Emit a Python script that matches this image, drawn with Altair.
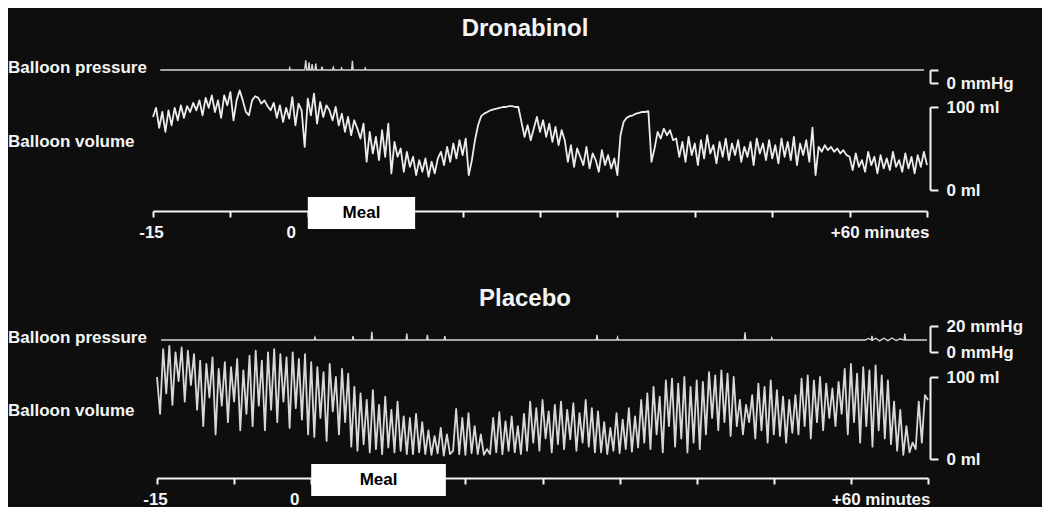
import altair as alt
import numpy as np
import pandas as pd

# ---------------- data ----------------
PANEL_TITLES = ["Dronabinol", "Placebo"]
TRACE_LABELS = ["Balloon pressure", "Balloon volume"]
TIME_DOMAIN = [-15, 60]
TIME_TICKS = [-15, -7.5, 0, 7.5, 15, 22.5, 30, 37.5, 45, 52.5, 60]
VOLUME_TICKS = [0, 100]
MEAL_LABEL = "Meal"
MEAL_START = [0.0, 0.0]
MEAL_END = [10.4, 13.1]

# balloon volume (ml), sampled evenly from -15 to +60 min
DRON_VOLUME = [
    88, 99, 75, 94, 70, 96, 78, 99, 84, 102, 87, 101,
    94, 105, 96, 108, 90, 111, 99, 114, 94, 108, 87, 114, 102, 118, 84, 108,
    120, 108, 94, 90, 108, 113, 111, 104, 108, 101, 96, 105, 87, 102, 82, 99,
    86, 112, 78, 104, 96, 52, 110, 90, 116, 80, 106, 88, 102,
    96, 84, 100, 78, 92, 70, 88, 66, 84, 74, 62, 80, 34,
    70, 44, 64, 36, 72, 40, 80, 20,
    58, 40, 50, 22, 46, 28, 40, 18, 36, 22, 38, 16, 34, 20, 38,
    46, 30, 52, 34, 56, 38, 60, 42, 62, 18,
    36, 60, 78, 89,
    92, 94, 96, 97, 98, 99, 100, 100, 101, 101, 100, 100,
    82, 64, 78, 60, 74,
    88, 70, 84, 64, 80, 58, 76, 54, 72,
    60, 34, 54, 28, 50, 40, 30, 52, 26, 44, 36, 22, 48, 30, 42, 26, 38, 18,
    66, 82, 87, 89, 90, 92, 93, 94, 94, 95,
    34,
    50, 70, 62, 74, 66, 72, 60,
    62, 40, 58, 34, 64, 42, 56, 30, 60, 38, 66, 44, 54, 32, 58, 40, 62, 36, 56, 42, 60, 34,
    52, 40, 58, 30, 62, 44, 56, 36, 60, 38, 54, 32, 62, 40, 58, 36, 64, 30, 56, 42, 60, 34,
    75, 18,
    52, 46, 54, 48, 52, 46, 50, 44, 48, 42,
    40, 24, 44, 28, 36, 22, 46, 30, 40, 20, 42, 26, 38, 24, 46, 28, 36, 22, 44, 26, 40, 20, 42, 28, 46, 30,
]

PLAC_VOLUME = [
    100, 55, 134, 80, 138, 66, 130, 95, 136, 70, 132, 90, 128,
    60, 120, 40, 116, 75, 124, 30, 110, 65, 118, 45, 112, 70, 122, 35, 108, 55,
    126, 40, 132, 65, 120, 35, 130, 60, 134, 45, 128, 70, 124, 38, 130, 62, 122, 48, 128, 30, 118,
    27, 112, 50, 106, 22, 116, 58, 100, 30, 110, 45, 104,
    15, 88, 10, 80, 18, 72, 8, 84, 12, 66, 6, 76, 14, 60, 8, 70, 10, 52, 6,
    50, 6, 55, 8, 45,
    6, 35, 5, 28, 7, 38, 4, 30, 6, 10,
    61, 6, 50, 5, 56, 7, 40, 6, 30, 5, 12,
    6, 50, 8, 57, 6, 46, 10, 52, 8, 40, 6, 55, 10,
    70, 20, 62, 10, 72, 25, 58, 8, 66, 18, 70, 12, 60, 24, 68, 10, 56, 20, 72, 15, 62, 8, 58,
    8, 45, 6, 38, 10, 56, 7, 48, 12, 62, 9, 52, 14,
    72, 20, 80, 12, 88, 30, 76, 8, 96, 40,
    98, 15, 92, 25, 100, 8, 88, 20, 96, 12, 94,
    30, 106, 50, 102, 35, 108, 45, 104, 28, 100,
    40, 72, 30, 66, 45, 78,
    25, 92, 35, 88, 20, 96, 30, 84,
    28, 76, 20, 72, 32, 78,
    30, 98, 40, 102, 25, 96, 45, 100, 35,
    92, 50, 86, 40, 94, 55,
    110, 30, 116, 45, 104, 20, 112, 40, 108, 15, 114, 35, 102, 25, 96, 18,
    70, 10, 60, 5, 40, 8, 20,
    12, 70, 20, 78, 72,
]

# balloon pressure (mmHg) points: time (min), value
DRON_P_T = [-14.3, -1.8, -1.75, -1.7, -0.3, -0.2, -0.1, 0.05, 0.12, 0.2, 0.35, 0.42, 0.5,
            0.7, 0.77, 0.85, 1.3, 1.37, 1.45, 2.4, 2.47, 2.55, 3.2, 3.27, 3.35,
            4.25, 4.32, 4.4, 5.5, 5.57, 5.65, 59.7]
DRON_P_V = [10, 10, 11.5, 10, 10, 17.5, 10, 10, 16, 10, 10, 14.5, 10,
            10, 15, 10, 10, 12.5, 10, 10, 12, 10, 10, 11.5, 10,
            10, 17, 10, 10, 11.5, 10, 10]

PLAC_P_T = [-14.6, 0.3, 0.37, 0.45, 4.0, 4.07, 4.15, 5.83, 5.9, 5.97, 9.23, 9.3, 9.37,
            11.23, 11.3, 11.37, 12.93, 13.0, 13.07, 27.73, 27.8, 27.87, 29.73, 29.8, 29.87,
            42.13, 42.2, 42.27, 44.73, 44.8, 44.87, 53.9, 54.2, 54.5, 54.55, 54.62,
            54.9, 55.3, 55.7, 56.1, 56.5, 56.9, 57.3, 57.68, 57.75, 57.82, 59.9]
PLAC_P_V = [9.2, 9.2, 11.2, 9.2, 9.2, 12.2, 9.2, 9.2, 15.5, 9.2, 9.2, 14.2, 9.2,
            9.2, 13.2, 9.2, 9.2, 12.2, 9.2, 9.2, 13.2, 9.2, 9.2, 11.2, 9.2,
            9.2, 15.2, 9.2, 9.2, 10.8, 9.2, 9.2, 10.4, 9.2, 12.4, 9.2,
            10.6, 8.6, 10.6, 8.8, 10.8, 8.8, 10.2, 9.2, 14.2, 9.2, 9.2]

# ---------------- style ----------------
FONT = "Liberation Sans"
BG = "#0e0e0e"
FG = "#f4f4f4"
PANEL_W = 1034
FS = 17
TITLE_FS = 24


def panel(title, volume, p_t, p_v, meal_start, meal_end, x_range, height,
          vol_range, p_domain, p_range, p_ticks, p_label_expr, title_offset,
          trace_color):
    xs = alt.Scale(domain=TIME_DOMAIN, range=x_range, nice=False, zero=False)
    xaxis = alt.Axis(
        values=TIME_TICKS, title=None, grid=False,
        labelExpr="datum.value == -15 ? '-15' : datum.value == 0 ? '0' : "
                  "datum.value == 60 ? '+60 minutes' : ''",
        labelAlign={"condition": {"test": "datum.value == 60", "value": "right"},
                    "value": "center"},
        labelOffset={"condition": [{"test": "datum.value == 0", "value": -17},
                                   {"test": "datum.value == 60", "value": 2}],
                     "value": -2},
        labelFlush=False, labelOverlap=False,
        domainColor=FG, domainWidth=2, tickColor=FG, tickWidth=2, tickSize=6,
        labelColor=FG, labelFont=FONT, labelFontSize=FS, labelFontWeight="bold",
        labelPadding=7,
    )
    common_y_axis = dict(
        orient="right", offset=-112, title=None, grid=False,
        domainColor=FG, domainWidth=2, tickColor=FG, tickWidth=2, tickSize=8,
        labelColor=FG, labelFont=FONT, labelFontSize=FS, labelFontWeight="bold",
        labelPadding=8, labelOverlap=False, labelAlign="left", labelBaseline="middle",
    )
    vol_scale = alt.Scale(domain=[0, 100], range=vol_range, nice=False, zero=False)
    vol_axis = alt.Axis(values=VOLUME_TICKS,
                        labelExpr="datum.value == 100 ? '100 ml' : '0 ml'",
                        **common_y_axis)
    p_scale = alt.Scale(domain=p_domain, range=p_range, nice=False, zero=False)
    p_axis = alt.Axis(values=p_ticks, labelExpr=p_label_expr, **common_y_axis)

    vol_df = pd.DataFrame({"t": np.linspace(TIME_DOMAIN[0], TIME_DOMAIN[1], len(volume)),
                           "v": volume})
    l_vol = alt.Chart(vol_df).mark_line(
        color=trace_color, strokeWidth=1.8, strokeJoin="round"
    ).encode(
        x=alt.X("t:Q", scale=xs, axis=xaxis),
        y=alt.Y("v:Q", scale=vol_scale, axis=vol_axis),
    )

    p_df = pd.DataFrame({"t": p_t, "p": p_v})
    l_p = alt.Chart(p_df).mark_line(color="#d6d6d6", strokeWidth=1.4).encode(
        x=alt.X("t:Q", scale=xs, axis=xaxis),
        y=alt.Y("p:Q", scale=p_scale, axis=p_axis),
    )

    text_style = dict(align="left", baseline="middle", font=FONT, fontSize=FS,
                      fontWeight="bold", color=FG)
    lab_p = alt.Chart(pd.DataFrame({"label": [TRACE_LABELS[0]], "p": [p_v[0]]})).mark_text(
        dy=-2, **text_style
    ).encode(
        x=alt.value(0),
        y=alt.Y("p:Q", scale=p_scale, axis=None),
        text="label:N",
    )
    lab_v = alt.Chart(pd.DataFrame({"label": [TRACE_LABELS[1]], "v": [58]})).mark_text(
        **text_style
    ).encode(
        x=alt.value(0),
        y=alt.Y("v:Q", scale=vol_scale, axis=None),
        text="label:N",
    )

    meal_df = pd.DataFrame({"start": [meal_start], "end": [meal_end],
                            "mid": [(meal_start + meal_end) / 2], "label": [MEAL_LABEL]})
    meal_box = alt.Chart(meal_df).mark_rect(color="#ffffff").encode(
        x=alt.X("start:Q", scale=xs, axis=xaxis),
        x2="end:Q",
        y=alt.value(height - 14),
        y2=alt.value(height + 18),
    )
    meal_txt = alt.Chart(meal_df).mark_text(
        font=FONT, fontSize=FS, fontWeight="bold", color="#000000", baseline="middle"
    ).encode(
        x=alt.X("mid:Q", scale=xs, axis=xaxis),
        y=alt.value(height + 2),
        text="label:N",
    )

    return alt.layer(l_vol, l_p, lab_p, lab_v, meal_box, meal_txt).resolve_scale(
        y="independent"
    ).properties(
        width=PANEL_W, height=height,
        title=alt.TitleParams(title, fontSize=TITLE_FS, font=FONT, fontWeight="bold",
                              color=FG, anchor="middle", offset=title_offset),
    )


top = panel(PANEL_TITLES[0], DRON_VOLUME, DRON_P_T, DRON_P_V, MEAL_START[0], MEAL_END[0],
            x_range=[145, 919], height=165, vol_range=[144, 61],
            p_domain=[0, 10], p_range=[37, 24], p_ticks=[0, 10],
            p_label_expr="datum.value == 0 ? '0 mmHg' : ''", title_offset=5,
            trace_color="#ececec")
bottom = panel(PANEL_TITLES[1], PLAC_VOLUME, PLAC_P_T, PLAC_P_V, MEAL_START[1], MEAL_END[1],
               x_range=[149, 920], height=163, vol_range=[144, 62],
               p_domain=[0, 20], p_range=[37, 11], p_ticks=[0, 20],
               p_label_expr="datum.value == 0 ? '0 mmHg' : '20 mmHg'", title_offset=4,
               trace_color="#d8d8d8")

chart = alt.vconcat(top, bottom, spacing=47).properties(
    padding={"left": 0, "top": 9, "right": 0, "bottom": 0},
    background=BG,
).configure_view(stroke=None)

chart.save("out.html", embed_options={"renderer": "svg", "actions": False})
